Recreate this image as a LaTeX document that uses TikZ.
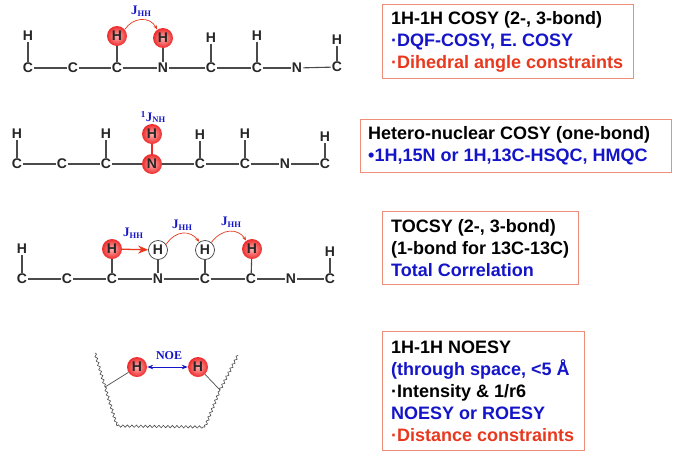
\documentclass[tikz,border=0pt]{standalone}
\usepackage{fontspec}
\setmainfont{Liberation Sans}
\newfontfamily\jfont{Liberation Serif}
\usetikzlibrary{arrows.meta, decorations.pathmorphing}
\definecolor{cblue}{HTML}{1414C8}
\definecolor{cred}{HTML}{E8381E}
\definecolor{cball}{HTML}{EE2A2A}
\definecolor{cedge}{HTML}{EE8E78}
\definecolor{cgrey}{HTML}{4A4A4A}
\newcommand{\jlab}[1]{J\raisebox{-1.5pt}{\fontsize{8.5}{9}\selectfont #1}}
\tikzset{
  atom/.style={font=\fontsize{14}{14}\selectfont\bfseries, inner sep=1pt, text=black!85},
  redatom/.style={atom, circle, minimum size=20pt, inner sep=0pt, shade, inner color=red!30, outer color=cball},
  whiteatom/.style={atom, circle, minimum size=19pt, inner sep=0pt, draw=black!75, line width=0.7pt, fill=white},
  bond/.style={draw=cgrey, line width=1.1pt},
  redbond/.style={draw=cball, line width=1.6pt},
  jarc/.style={-{Stealth[length=4.5pt]}, draw=cred, line width=0.7pt},
  jlabel/.style={font=\jfont\fontsize{13}{13}\selectfont\bfseries, text=cblue, inner sep=0pt},
  infobox/.style={draw=cedge, line width=1pt, anchor=north west, inner sep=0pt},
  infotext/.style={anchor=west, align=left, inner sep=0pt, font=\fontsize{18}{22}\selectfont\bfseries},
  wavy/.style={draw=cgrey, line width=0.6pt, decorate, decoration={snake, amplitude=1.2pt, segment length=4.5pt}},
}
\begin{document}
\begin{tikzpicture}[x=1pt, y=-1pt]
  \useasboundingbox (0,0) rectangle (682,469);
  \foreach \n/\x/\y/\t in {a1/28/68/C, a2/73/68/C, a3/117/68/C, a4/163/68/N, a5/211/68/C, a6/257/68/C, a7/297/68/N, a8/337/67/C,
    ah1/28/36/H, ah5/211/38/H, ah6/257/36/H, ah8/337/40/H,
    b1/17/164/C, b2/62/164/C, b3/106/164/C, b5/200/164/C, b6/245/164/C, b7/285/164/N, b8/325/164/C,
    bh1/17/134/H, bh3/106/134/H, bh5/200/135/H, bh6/245/134/H, bh8/325/137/H,
    c1/22/279/C, c2/67/279/C, c3/112/279/C, c4/158/279/N, c5/205/279/C, c6/251/279/C, c7/291/279/N, c8/330/279/C,
    ch1/22/249/H, ch8/330/252/H}{
    \node[atom] (\n) at (\x,\y) {\t};
  }
  \foreach \n/\x/\y/\t in {ah3/117/36/H, ah4/163/38/H, bh4/152/134/H, b4/152/164/N, ch3/112/249/H, ch6/252/249/H, dh1/137/367/H, dh2/198/367/H}{
    \node[redatom] (\n) at (\x,\y) {\t};
  }
  \foreach \n/\x/\y in {ch4/158/250, ch5/205/250}{
    \node[whiteatom] (\n) at (\x,\y) {H};
  }
  \foreach \r in {a,b,c}{
    \foreach \i [remember=\i as \j (initially 1)] in {2,...,8}{
      \draw[bond] (\r\j) -- (\r\i);
    }
  }
  \foreach \p/\q in {ah1/a1, ah3/a3, ah4/a4, ah5/a5, ah6/a6, ah8/a8, bh1/b1, bh3/b3, bh5/b5, bh6/b6, bh8/b8,
    ch1/c1, ch3/c3, ch4/c4, ch5/c5, ch6/c6, ch8/c8}{
    \draw[bond] (\p) -- (\q);
  }
  \draw[redbond] (bh4) -- (b4);
  \draw[jarc] (ah3.40) .. controls (133,17) and (150,16) .. (ah4.125);
  \draw[jarc] (ch4.35) .. controls (176,230) and (190,230) .. (ch5.125);
  \draw[jarc] (ch5.50) .. controls (222,228) and (238,228) .. (ch6.125);
  \draw[draw=cred, line width=1.3pt, -{Stealth[length=10pt, width=8pt]}] (ch3) -- (ch4);
  \node[jlabel] (j1) at (141,11) {\jlab{HH}};
  \node[jlabel] (j2) at (153,117) {\textsuperscript{1}\jlab{NH}};
  \node[jlabel] (j3) at (133,233) {\jlab{HH}};
  \node[jlabel] (j4) at (182,225) {\jlab{HH}};
  \node[jlabel] (j5) at (231,222) {\jlab{HH}};
  \node[jlabel, font=\jfont\fontsize{12}{12}\selectfont\bfseries] (noe) at (169,356) {NOE};
  \draw[draw=cblue, line width=0.8pt, {Stealth[length=6pt]}-{Stealth[length=6pt]}] (dh1) -- (dh2);
  \coordinate (w1) at (95,353);
  \coordinate (w2) at (105,387);
  \coordinate (w3) at (117,426);
  \coordinate (w4) at (205,427);
  \coordinate (w5) at (220,390);
  \coordinate (w6) at (238,355);
  \draw[wavy] (w1) -- (w2);
  \draw[wavy] (w2) -- (w3);
  \draw[wavy] (w3) -- (w4);
  \draw[wavy] (w4) -- (w5);
  \draw[wavy] (w5) -- (w6);
  \draw[bond, line width=0.7pt] (w2) -- (dh1);
  \draw[bond, line width=0.7pt] (dh2) -- (w5);
  \node[infobox, minimum width=251pt, minimum height=74pt] (cosy) at (382,4) {};
  \node[infobox, minimum width=311pt, minimum height=53pt] (hetero) at (360,119) {};
  \node[infobox, minimum width=196pt, minimum height=73pt] (tocsy) at (382,211) {};
  \node[infobox, minimum width=202pt, minimum height=119pt] (noesy) at (382,331) {};
  \node[infotext] (cosytext) at ([xshift=9pt]cosy.west)
    {1H-1H COSY (2-, 3-bond)\\\textcolor{cblue}{·DQF-COSY, E. COSY}\\\textcolor{cred}{·Dihedral angle constraints}};
  \node[infotext] (heterotext) at ([xshift=8pt]hetero.west)
    {Hetero-nuclear COSY (one-bond)\\\textcolor{cblue}{•1H,15N or 1H,13C-HSQC, HMQC}};
  \node[infotext] (tocsytext) at ([xshift=9pt]tocsy.west)
    {TOCSY (2-, 3-bond)\\(1-bond for 13C-13C)\\\textcolor{cblue}{Total Correlation}};
  \node[infotext] (noesytext) at ([xshift=9pt]noesy.west)
    {1H-1H NOESY\\\textcolor{cblue}{(through space, <5 Å}\\·Intensity \& 1/r6\\\textcolor{cblue}{NOESY or ROESY}\\\textcolor{cred}{·Distance constraints}};
\end{tikzpicture}
\end{document}
